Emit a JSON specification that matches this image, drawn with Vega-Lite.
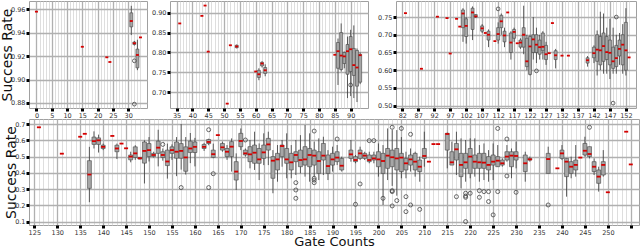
{
"$schema":"https://vega.github.io/schema/vega-lite/v6.json",
"padding":0,
"background":"white",
"datasets":{
"box":[
{"p":"a","x":0,"m":0.958},{"p":"a","x":15,"m":0.928},{"p":"a","x":23,"m":0.919},{"p":"a","x":24,"m":0.915},
{"p":"a","x":31,"lo":0.938,"q1":0.945,"m":0.950,"q3":0.957,"hi":0.963},
{"p":"a","x":32,"lo":0.929,"q1":0.930,"m":0.931,"q3":0.932,"hi":0.933},
{"p":"a","x":33,"lo":0.908,"q1":0.910,"m":0.921,"q3":0.926,"hi":0.934},
{"p":"a","x":34,"m":0.936},
{"p":"b","x":36,"m":0.873},{"p":"b","x":43,"m":0.892},{"p":"b","x":44,"m":0.918},{"p":"b","x":45,"m":0.802},{"p":"b","x":51,"m":0.671},{"p":"b","x":52,"m":0.818},
{"p":"b","x":54,"lo":0.810,"q1":0.812,"m":0.815,"q3":0.818,"hi":0.820},
{"p":"b","x":60,"m":0.752},
{"p":"b","x":61,"lo":0.730,"q1":0.737,"m":0.745,"q3":0.755,"hi":0.760},
{"p":"b","x":62,"lo":0.762,"q1":0.766,"m":0.772,"q3":0.775,"hi":0.778},
{"p":"b","x":63,"lo":0.740,"q1":0.747,"m":0.755,"q3":0.762,"hi":0.770},
{"p":"b","x":85,"m":0.794},
{"p":"b","x":86,"lo":0.718,"q1":0.760,"m":0.803,"q3":0.825,"hi":0.835},
{"p":"b","x":87,"lo":0.752,"q1":0.757,"m":0.792,"q3":0.850,"hi":0.873},
{"p":"b","x":88,"lo":0.760,"q1":0.772,"m":0.790,"q3":0.800,"hi":0.802},
{"p":"b","x":89,"lo":0.685,"q1":0.745,"m":0.803,"q3":0.820,"hi":0.840},
{"p":"b","x":90,"lo":0.690,"q1":0.752,"m":0.808,"q3":0.840,"hi":0.857},
{"p":"b","x":91,"lo":0.685,"q1":0.742,"m":0.768,"q3":0.810,"hi":0.868},
{"p":"b","x":92,"lo":0.675,"q1":0.715,"m":0.762,"q3":0.805,"hi":0.810},
{"p":"b","x":93,"lo":0.720,"q1":0.725,"m":0.793,"q3":0.795,"hi":0.800},
{"p":"c","x":83,"m":0.761},{"p":"c","x":88,"m":0.604},{"p":"c","x":93,"m":0.751},{"p":"c","x":96,"m":0.747},{"p":"c","x":97,"m":0.647},{"p":"c","x":99,"m":0.745},{"p":"c","x":100,"m":0.723},
{"p":"c","x":101,"lo":0.680,"q1":0.720,"m":0.760,"q3":0.770,"hi":0.775},
{"p":"c","x":102,"lo":0.675,"q1":0.695,"m":0.725,"q3":0.745,"hi":0.750},
{"p":"c","x":104,"lo":0.685,"q1":0.715,"m":0.763,"q3":0.775,"hi":0.780},
{"p":"c","x":105,"lo":0.748,"q1":0.750,"m":0.752,"q3":0.757,"hi":0.758},
{"p":"c","x":107,"lo":0.705,"q1":0.710,"m":0.718,"q3":0.725,"hi":0.730},
{"p":"c","x":108,"m":0.705},
{"p":"c","x":109,"lo":0.665,"q1":0.685,"m":0.700,"q3":0.710,"hi":0.715},
{"p":"c","x":111,"m":0.682},
{"p":"c","x":112,"lo":0.675,"q1":0.685,"m":0.702,"q3":0.720,"hi":0.735},
{"p":"c","x":113,"lo":0.700,"q1":0.720,"m":0.738,"q3":0.755,"hi":0.760},
{"p":"c","x":114,"lo":0.665,"q1":0.680,"m":0.698,"q3":0.710,"hi":0.720},
{"p":"c","x":115,"m":0.763},
{"p":"c","x":116,"lo":0.630,"q1":0.650,"m":0.678,"q3":0.705,"hi":0.710},
{"p":"c","x":117,"lo":0.680,"q1":0.690,"m":0.708,"q3":0.715,"hi":0.720},
{"p":"c","x":118,"m":0.676},
{"p":"c","x":119,"lo":0.660,"q1":0.665,"m":0.678,"q3":0.685,"hi":0.690},
{"p":"c","x":120,"lo":0.645,"q1":0.665,"m":0.700,"q3":0.720,"hi":0.782},
{"p":"c","x":121,"lo":0.600,"q1":0.610,"m":0.625,"q3":0.690,"hi":0.700},
{"p":"c","x":122,"lo":0.585,"q1":0.588,"m":0.667,"q3":0.695,"hi":0.700},
{"p":"c","x":123,"lo":0.630,"q1":0.650,"m":0.687,"q3":0.700,"hi":0.750},
{"p":"c","x":124,"lo":0.620,"q1":0.650,"m":0.672,"q3":0.700,"hi":0.720},
{"p":"c","x":125,"lo":0.630,"q1":0.645,"m":0.665,"q3":0.685,"hi":0.700},
{"p":"c","x":126,"lo":0.630,"q1":0.655,"m":0.666,"q3":0.705,"hi":0.710},
{"p":"c","x":127,"lo":0.615,"q1":0.630,"m":0.645,"q3":0.670,"hi":0.680},
{"p":"c","x":128,"m":0.648},{"p":"c","x":129,"m":0.733},
{"p":"c","x":130,"lo":0.605,"q1":0.630,"m":0.642,"q3":0.655,"hi":0.660},
{"p":"c","x":132,"m":0.641},{"p":"c","x":134,"m":0.641},
{"p":"c","x":140,"lo":0.610,"q1":0.620,"m":0.628,"q3":0.635,"hi":0.640},
{"p":"c","x":142,"lo":0.620,"q1":0.635,"m":0.648,"q3":0.665,"hi":0.670},
{"p":"c","x":143,"lo":0.585,"q1":0.625,"m":0.658,"q3":0.700,"hi":0.712},
{"p":"c","x":144,"lo":0.600,"q1":0.615,"m":0.656,"q3":0.695,"hi":0.765},
{"p":"c","x":145,"lo":0.590,"q1":0.625,"m":0.668,"q3":0.705,"hi":0.760},
{"p":"c","x":146,"lo":0.590,"q1":0.630,"m":0.651,"q3":0.695,"hi":0.720},
{"p":"c","x":147,"lo":0.575,"q1":0.615,"m":0.649,"q3":0.685,"hi":0.745},
{"p":"c","x":148,"lo":0.590,"q1":0.605,"m":0.625,"q3":0.665,"hi":0.720},
{"p":"c","x":149,"lo":0.590,"q1":0.610,"m":0.634,"q3":0.670,"hi":0.700},
{"p":"c","x":150,"lo":0.615,"q1":0.640,"m":0.660,"q3":0.685,"hi":0.705},
{"p":"c","x":151,"lo":0.590,"q1":0.615,"m":0.672,"q3":0.700,"hi":0.730},
{"p":"c","x":152,"lo":0.585,"q1":0.600,"m":0.656,"q3":0.735,"hi":0.775},
{"p":"c","x":153,"m":0.636},
{"p":"d","x":126,"m":0.680},{"p":"d","x":131,"m":0.518},{"p":"d","x":135,"m":0.622},{"p":"d","x":136,"m":0.640},
{"p":"d","x":137,"lo":0.22,"q1":0.305,"m":0.39,"q3":0.475,"hi":0.56},
{"p":"d","x":138,"lo":0.55,"q1":0.575,"m":0.595,"q3":0.62,"hi":0.655},
{"p":"d","x":139,"lo":0.525,"q1":0.575,"m":0.60,"q3":0.615,"hi":0.635},
{"p":"d","x":140,"lo":0.54,"q1":0.55,"m":0.56,"q3":0.57,"hi":0.58},
{"p":"d","x":142,"m":0.627},
{"p":"d","x":143,"lo":0.485,"q1":0.53,"m":0.55,"q3":0.57,"hi":0.58},
{"p":"d","x":144,"m":0.58},{"p":"d","x":145,"m":0.551},
{"p":"d","x":146,"lo":0.465,"q1":0.48,"m":0.50,"q3":0.51,"hi":0.53},
{"p":"d","x":147,"lo":0.48,"q1":0.495,"m":0.52,"q3":0.56,"hi":0.57},
{"p":"d","x":148,"lo":0.483,"q1":0.485,"m":0.49,"q3":0.495,"hi":0.497},
{"p":"d","x":149,"lo":0.335,"q1":0.46,"m":0.535,"q3":0.59,"hi":0.60},
{"p":"d","x":150,"lo":0.47,"q1":0.50,"m":0.54,"q3":0.58,"hi":0.62},
{"p":"d","x":151,"lo":0.495,"q1":0.50,"m":0.51,"q3":0.52,"hi":0.53},
{"p":"d","x":152,"lo":0.44,"q1":0.52,"m":0.555,"q3":0.595,"hi":0.665},
{"p":"d","x":153,"lo":0.475,"q1":0.495,"m":0.51,"q3":0.53,"hi":0.55},
{"p":"d","x":154,"lo":0.365,"q1":0.445,"m":0.47,"q3":0.54,"hi":0.58},
{"p":"d","x":155,"lo":0.48,"q1":0.52,"m":0.54,"q3":0.56,"hi":0.575},
{"p":"d","x":156,"lo":0.38,"q1":0.49,"m":0.53,"q3":0.59,"hi":0.62},
{"p":"d","x":157,"lo":0.42,"q1":0.49,"m":0.535,"q3":0.58,"hi":0.70},
{"p":"d","x":158,"lo":0.39,"q1":0.41,"m":0.495,"q3":0.56,"hi":0.62},
{"p":"d","x":159,"lo":0.46,"q1":0.525,"m":0.55,"q3":0.595,"hi":0.645},
{"p":"d","x":160,"lo":0.44,"q1":0.525,"m":0.56,"q3":0.59,"hi":0.615},
{"p":"d","x":162,"lo":0.535,"q1":0.55,"m":0.56,"q3":0.575,"hi":0.585},
{"p":"d","x":163,"lo":0.57,"q1":0.58,"m":0.59,"q3":0.605,"hi":0.61},
{"p":"d","x":164,"lo":0.49,"q1":0.495,"m":0.515,"q3":0.54,"hi":0.58},
{"p":"d","x":165,"m":0.632},
{"p":"d","x":166,"lo":0.53,"q1":0.54,"m":0.557,"q3":0.581,"hi":0.592},
{"p":"d","x":167,"lo":0.48,"q1":0.50,"m":0.53,"q3":0.55,"hi":0.571},
{"p":"d","x":168,"lo":0.408,"q1":0.50,"m":0.561,"q3":0.592,"hi":0.612},
{"p":"d","x":169,"lo":0.295,"q1":0.356,"m":0.408,"q3":0.469,"hi":0.52},
{"p":"d","x":170,"lo":0.54,"q1":0.561,"m":0.596,"q3":0.643,"hi":0.673},
{"p":"d","x":171,"lo":0.50,"q1":0.51,"m":0.52,"q3":0.54,"hi":0.55},
{"p":"d","x":172,"lo":0.428,"q1":0.469,"m":0.514,"q3":0.561,"hi":0.602},
{"p":"d","x":173,"lo":0.418,"q1":0.459,"m":0.524,"q3":0.571,"hi":0.653},
{"p":"d","x":174,"lo":0.356,"q1":0.459,"m":0.483,"q3":0.55,"hi":0.581},
{"p":"d","x":175,"lo":0.448,"q1":0.489,"m":0.526,"q3":0.571,"hi":0.643},
{"p":"d","x":176,"lo":0.448,"q1":0.54,"m":0.575,"q3":0.612,"hi":0.653},
{"p":"d","x":177,"lo":0.275,"q1":0.367,"m":0.475,"q3":0.50,"hi":0.54},
{"p":"d","x":178,"lo":0.346,"q1":0.418,"m":0.483,"q3":0.52,"hi":0.571},
{"p":"d","x":179,"lo":0.438,"q1":0.50,"m":0.565,"q3":0.571,"hi":0.602},
{"p":"d","x":180,"lo":0.367,"q1":0.459,"m":0.483,"q3":0.55,"hi":0.643},
{"p":"d","x":181,"lo":0.367,"q1":0.418,"m":0.465,"q3":0.52,"hi":0.571},
{"p":"d","x":182,"lo":0.387,"q1":0.469,"m":0.51,"q3":0.53,"hi":0.602},
{"p":"d","x":183,"lo":0.397,"q1":0.438,"m":0.479,"q3":0.54,"hi":0.632},
{"p":"d","x":184,"lo":0.377,"q1":0.448,"m":0.483,"q3":0.561,"hi":0.694},
{"p":"d","x":185,"lo":0.346,"q1":0.438,"m":0.51,"q3":0.55,"hi":0.643},
{"p":"d","x":186,"lo":0.377,"q1":0.448,"m":0.506,"q3":0.54,"hi":0.592},
{"p":"d","x":187,"lo":0.356,"q1":0.397,"m":0.473,"q3":0.53,"hi":0.612},
{"p":"d","x":188,"lo":0.387,"q1":0.479,"m":0.506,"q3":0.581,"hi":0.622},
{"p":"d","x":189,"lo":0.356,"q1":0.397,"m":0.442,"q3":0.51,"hi":0.54},
{"p":"d","x":190,"lo":0.408,"q1":0.448,"m":0.483,"q3":0.52,"hi":0.561},
{"p":"d","x":191,"lo":0.448,"q1":0.469,"m":0.494,"q3":0.53,"hi":0.571},
{"p":"d","x":192,"lo":0.408,"q1":0.418,"m":0.444,"q3":0.489,"hi":0.50},
{"p":"d","x":194,"lo":0.469,"q1":0.489,"m":0.514,"q3":0.54,"hi":0.602},
{"p":"d","x":195,"lo":0.459,"q1":0.469,"m":0.479,"q3":0.50,"hi":0.51},
{"p":"d","x":196,"lo":0.479,"q1":0.489,"m":0.52,"q3":0.54,"hi":0.561},
{"p":"d","x":197,"lo":0.479,"q1":0.489,"m":0.506,"q3":0.52,"hi":0.53},
{"p":"d","x":198,"lo":0.459,"q1":0.469,"m":0.479,"q3":0.51,"hi":0.53},
{"p":"d","x":199,"lo":0.459,"q1":0.479,"m":0.489,"q3":0.51,"hi":0.53},
{"p":"d","x":200,"lo":0.377,"q1":0.438,"m":0.483,"q3":0.53,"hi":0.581},
{"p":"d","x":201,"lo":0.203,"q1":0.397,"m":0.473,"q3":0.52,"hi":0.571},
{"p":"d","x":202,"lo":0.356,"q1":0.428,"m":0.506,"q3":0.55,"hi":0.673},
{"p":"d","x":203,"lo":0.32,"q1":0.438,"m":0.496,"q3":0.54,"hi":0.663},
{"p":"d","x":204,"lo":0.26,"q1":0.418,"m":0.489,"q3":0.55,"hi":0.663},
{"p":"d","x":205,"lo":0.367,"q1":0.408,"m":0.494,"q3":0.52,"hi":0.62},
{"p":"d","x":206,"lo":0.367,"q1":0.418,"m":0.459,"q3":0.489,"hi":0.53},
{"p":"d","x":207,"lo":0.408,"q1":0.448,"m":0.483,"q3":0.51,"hi":0.55},
{"p":"d","x":208,"lo":0.377,"q1":0.418,"m":0.469,"q3":0.52,"hi":0.53},
{"p":"d","x":209,"lo":0.346,"q1":0.408,"m":0.438,"q3":0.479,"hi":0.50},
{"p":"d","x":210,"lo":0.438,"q1":0.489,"m":0.504,"q3":0.55,"hi":0.653},
{"p":"d","x":211,"m":0.469},{"p":"d","x":212,"m":0.577},{"p":"d","x":213,"m":0.577},
{"p":"d","x":215,"lo":0.428,"q1":0.54,"m":0.639,"q3":0.643,"hi":0.647},
{"p":"d","x":216,"lo":0.448,"q1":0.448,"m":0.465,"q3":0.53,"hi":0.592},
{"p":"d","x":217,"lo":0.387,"q1":0.479,"m":0.545,"q3":0.581,"hi":0.653},
{"p":"d","x":218,"lo":0.305,"q1":0.377,"m":0.449,"q3":0.52,"hi":0.612},
{"p":"d","x":219,"lo":0.346,"q1":0.428,"m":0.465,"q3":0.52,"hi":0.602},
{"p":"d","x":220,"lo":0.367,"q1":0.397,"m":0.50,"q3":0.55,"hi":0.612},
{"p":"d","x":221,"lo":0.377,"q1":0.428,"m":0.469,"q3":0.51,"hi":0.612},
{"p":"d","x":222,"lo":0.346,"q1":0.428,"m":0.465,"q3":0.52,"hi":0.571},
{"p":"d","x":223,"lo":0.356,"q1":0.428,"m":0.463,"q3":0.52,"hi":0.581},
{"p":"d","x":224,"lo":0.346,"q1":0.418,"m":0.449,"q3":0.50,"hi":0.54},
{"p":"d","x":225,"lo":0.356,"q1":0.448,"m":0.469,"q3":0.51,"hi":0.581},
{"p":"d","x":226,"lo":0.438,"q1":0.438,"m":0.475,"q3":0.50,"hi":0.571},
{"p":"d","x":227,"lo":0.438,"q1":0.448,"m":0.459,"q3":0.479,"hi":0.489},
{"p":"d","x":228,"lo":0.469,"q1":0.479,"m":0.50,"q3":0.53,"hi":0.571},
{"p":"d","x":229,"lo":0.367,"q1":0.438,"m":0.506,"q3":0.53,"hi":0.55},
{"p":"d","x":230,"lo":0.428,"q1":0.479,"m":0.504,"q3":0.53,"hi":0.592},
{"p":"d","x":232,"lo":0.346,"q1":0.408,"m":0.459,"q3":0.51,"hi":0.53},
{"p":"d","x":233,"lo":0.469,"q1":0.479,"m":0.483,"q3":0.489,"hi":0.50},
{"p":"d","x":237,"lo":0.397,"q1":0.397,"m":0.485,"q3":0.52,"hi":0.561},
{"p":"d","x":239,"m":0.428},
{"p":"d","x":240,"lo":0.479,"q1":0.489,"m":0.52,"q3":0.54,"hi":0.571},
{"p":"d","x":241,"lo":0.254,"q1":0.377,"m":0.469,"q3":0.489,"hi":0.489},
{"p":"d","x":242,"lo":0.367,"q1":0.397,"m":0.438,"q3":0.469,"hi":0.50},
{"p":"d","x":243,"lo":0.377,"q1":0.418,"m":0.449,"q3":0.479,"hi":0.571},
{"p":"d","x":244,"m":0.494},
{"p":"d","x":245,"lo":0.50,"q1":0.51,"m":0.536,"q3":0.581,"hi":0.622},
{"p":"d","x":246,"lo":0.489,"q1":0.50,"m":0.516,"q3":0.561,"hi":0.561},
{"p":"d","x":247,"lo":0.387,"q1":0.408,"m":0.438,"q3":0.469,"hi":0.489},
{"p":"d","x":248,"lo":0.285,"q1":0.336,"m":0.377,"q3":0.418,"hi":0.438},
{"p":"d","x":249,"lo":0.377,"q1":0.387,"m":0.449,"q3":0.469,"hi":0.54},
{"p":"d","x":250,"m":0.281},{"p":"d","x":254,"m":0.653},{"p":"d","x":255,"m":0.452}
],
"out":[
{"p":"a","x":32,"y":0.916},{"p":"a","x":32,"y":0.879},
{"p":"b","x":90,"y":0.718},
{"p":"c","x":112,"y":0.773},{"p":"c","x":124,"y":0.598},{"p":"c","x":148,"y":0.507},{"p":"c","x":149,"y":0.750},
{"p":"d","x":153,"y":0.575},{"p":"d","x":157,"y":0.31},{"p":"d","x":163,"y":0.665},{"p":"d","x":163,"y":0.31},{"p":"d","x":164,"y":0.395},
{"p":"d","x":171,"y":0.602},{"p":"d","x":182,"y":0.34},{"p":"d","x":182,"y":0.295},{"p":"d","x":182,"y":0.244},
{"p":"d","x":186,"y":0.657},{"p":"d","x":186,"y":0.367},{"p":"d","x":186,"y":0.356},{"p":"d","x":186,"y":0.34},
{"p":"d","x":191,"y":0.608},{"p":"d","x":195,"y":0.207},{"p":"d","x":196,"y":0.332},{"p":"d","x":198,"y":0.598},{"p":"d","x":199,"y":0.598},
{"p":"d","x":201,"y":0.244},{"p":"d","x":203,"y":0.68},{"p":"d","x":203,"y":0.291},{"p":"d","x":203,"y":0.285},{"p":"d","x":203,"y":0.197},
{"p":"d","x":204,"y":0.23},{"p":"d","x":205,"y":0.673},{"p":"d","x":206,"y":0.254},{"p":"d","x":206,"y":0.162},{"p":"d","x":207,"y":0.637},{"p":"d","x":207,"y":0.203},
{"p":"d","x":209,"y":0.176},{"p":"d","x":217,"y":0.254},{"p":"d","x":219,"y":0.275},{"p":"d","x":219,"y":0.258},{"p":"d","x":219,"y":0.25},{"p":"d","x":219,"y":0.101},
{"p":"d","x":220,"y":0.275},{"p":"d","x":222,"y":0.291},{"p":"d","x":222,"y":0.25},{"p":"d","x":223,"y":0.285},{"p":"d","x":224,"y":0.285},{"p":"d","x":224,"y":0.224},
{"p":"d","x":225,"y":0.142},{"p":"d","x":226,"y":0.673},{"p":"d","x":226,"y":0.285},{"p":"d","x":228,"y":0.608},{"p":"d","x":228,"y":0.381},{"p":"d","x":230,"y":0.281},
{"p":"d","x":237,"y":0.203},{"p":"d","x":246,"y":0.68}
]
},
"vconcat":[
{"hconcat":[
{"width":118,"height":107,
"layer":[
{"data":{"name":"box"},"transform":[{"filter":"datum.p==='a'"}],"mark":{"type":"rule","stroke":"#333","strokeWidth":0.8,"clip":true},
"encoding":{"x":{"field":"x","type":"quantitative","scale":{"domain":[-0.8,34.5],"nice":false,"zero":false},
"axis":{"title":null,"format":"d","tickCount":500,"values":[0,1,2,3,4,5,6,7,8,9,10,11,12,13,14,15,16,17,18,19,20,21,22,23,24,25,26,27,28,29,30,31,32,33,34],
"labelExpr":"datum.value % 5 === 0 ? datum.label : ''",
"gridColor":{"condition":{"test":"datum.value % 5 === 0","value":"#b0b0b0"},"value":"#d6d6d6"},
"gridWidth":{"condition":{"test":"datum.value % 5 === 0","value":1.3},"value":0.8},
"tickOpacity":{"condition":{"test":"datum.value % 5 === 0","value":1},"value":0}}},
"y":{"field":"lo","type":"quantitative","scale":{"domain":[0.8757,0.9671],"nice":false,"zero":false},
"axis":{"title":"Success Rate","titlePadding":-4,"format":".2f","tickCount":500,"values":[0.88,0.90,0.92,0.94,0.96]}},
"y2":{"field":"hi"}}},
{"data":{"name":"box"},"transform":[{"filter":"datum.p==='a'"}],"mark":{"type":"bar","size":3,"fill":"#a6a6a6","stroke":"#444","strokeWidth":0.6,"clip":true},
"encoding":{"x":{"field":"x","type":"quantitative"},"y":{"field":"q1","type":"quantitative"},"y2":{"field":"q3"}}},
{"data":{"name":"box"},"transform":[{"filter":"datum.p==='a'"}],"mark":{"type":"tick","orient":"horizontal","color":"#d40000","size":3,"thickness":1.8,"opacity":1,"clip":true},
"encoding":{"x":{"field":"x","type":"quantitative"},"y":{"field":"m","type":"quantitative"}}},
{"data":{"name":"out"},"transform":[{"filter":"datum.p==='a'"}],"mark":{"type":"point","shape":"circle","filled":false,"stroke":"#444","size":14,"strokeWidth":0.8,"opacity":1,"clip":true},
"encoding":{"x":{"field":"x","type":"quantitative"},"y":{"field":"y","type":"quantitative"}}}
]},
{"hconcat":[
{"width":198,"height":107,
"layer":[
{"data":{"name":"box"},"transform":[{"filter":"datum.p==='b'"}],"mark":{"type":"rule","stroke":"#333","strokeWidth":0.8,"clip":true},
"encoding":{"x":{"field":"x","type":"quantitative","scale":{"domain":[34.5,93.9],"nice":false,"zero":false},
"axis":{"title":null,"format":"d","tickCount":500,"values":[35,36,37,38,39,40,41,42,43,44,45,46,47,48,49,50,51,52,53,54,55,56,57,58,59,60,61,62,63,64,65,66,67,68,69,70,71,72,73,74,75,76,77,78,79,80,81,82,83,84,85,86,87,88,89,90,91,92,93],
"labelExpr":"datum.value % 5 === 0 ? datum.label : ''",
"gridColor":{"condition":{"test":"datum.value % 5 === 0","value":"#b0b0b0"},"value":"#d6d6d6"},
"gridWidth":{"condition":{"test":"datum.value % 5 === 0","value":1.3},"value":0.8},
"tickOpacity":{"condition":{"test":"datum.value % 5 === 0","value":1},"value":0}}},
"y":{"field":"lo","type":"quantitative","scale":{"domain":[0.660,0.9295],"nice":false,"zero":false},
"axis":{"title":null,"format":".2f","tickCount":500,"values":[0.70,0.75,0.80,0.85,0.90]}},
"y2":{"field":"hi"}}},
{"data":{"name":"box"},"transform":[{"filter":"datum.p==='b'"}],"mark":{"type":"bar","size":3,"fill":"#a6a6a6","stroke":"#444","strokeWidth":0.6,"clip":true},
"encoding":{"x":{"field":"x","type":"quantitative"},"y":{"field":"q1","type":"quantitative"},"y2":{"field":"q3"}}},
{"data":{"name":"box"},"transform":[{"filter":"datum.p==='b'"}],"mark":{"type":"tick","orient":"horizontal","color":"#d40000","size":3,"thickness":1.8,"opacity":1,"clip":true},
"encoding":{"x":{"field":"x","type":"quantitative"},"y":{"field":"m","type":"quantitative"}}},
{"data":{"name":"out"},"transform":[{"filter":"datum.p==='b'"}],"mark":{"type":"point","shape":"circle","filled":false,"stroke":"#444","size":14,"strokeWidth":0.8,"opacity":1,"clip":true},
"encoding":{"x":{"field":"x","type":"quantitative"},"y":{"field":"y","type":"quantitative"}}}
]},
{"width":240,"height":107,
"layer":[
{"data":{"name":"box"},"transform":[{"filter":"datum.p==='c'"}],"mark":{"type":"rule","stroke":"#333","strokeWidth":0.8,"clip":true},
"encoding":{"x":{"field":"x","type":"quantitative","scale":{"domain":[81.6,153.6],"nice":false,"zero":false},
"axis":{"title":null,"format":"d","tickCount":500,"values":[82,83,84,85,86,87,88,89,90,91,92,93,94,95,96,97,98,99,100,101,102,103,104,105,106,107,108,109,110,111,112,113,114,115,116,117,118,119,120,121,122,123,124,125,126,127,128,129,130,131,132,133,134,135,136,137,138,139,140,141,142,143,144,145,146,147,148,149,150,151,152,153],
"labelExpr":"(datum.value - 82) % 5 === 0 ? datum.label : ''",
"gridColor":{"condition":{"test":"(datum.value - 82) % 5 === 0","value":"#b0b0b0"},"value":"#d6d6d6"},
"gridWidth":{"condition":{"test":"(datum.value - 82) % 5 === 0","value":1.3},"value":0.8},
"tickOpacity":{"condition":{"test":"(datum.value - 82) % 5 === 0","value":1},"value":0}}},
"y":{"field":"lo","type":"quantitative","scale":{"domain":[0.4932,0.7953],"nice":false,"zero":false},
"axis":{"title":null,"format":".2f","tickCount":500,"values":[0.50,0.55,0.60,0.65,0.70,0.75]}},
"y2":{"field":"hi"}}},
{"data":{"name":"box"},"transform":[{"filter":"datum.p==='c'"}],"mark":{"type":"bar","size":3,"fill":"#a6a6a6","stroke":"#444","strokeWidth":0.6,"clip":true},
"encoding":{"x":{"field":"x","type":"quantitative"},"y":{"field":"q1","type":"quantitative"},"y2":{"field":"q3"}}},
{"data":{"name":"box"},"transform":[{"filter":"datum.p==='c'"}],"mark":{"type":"tick","orient":"horizontal","color":"#d40000","size":3,"thickness":1.8,"opacity":1,"clip":true},
"encoding":{"x":{"field":"x","type":"quantitative"},"y":{"field":"m","type":"quantitative"}}},
{"data":{"name":"out"},"transform":[{"filter":"datum.p==='c'"}],"mark":{"type":"point","shape":"circle","filled":false,"stroke":"#444","size":14,"strokeWidth":0.8,"opacity":1,"clip":true},
"encoding":{"x":{"field":"x","type":"quantitative"},"y":{"field":"y","type":"quantitative"}}}
]}
],"spacing":8,"resolve":{"scale":{"x":"independent","y":"independent"}}}
],"spacing":3,"resolve":{"scale":{"x":"independent","y":"independent"}}},
{"width":610,"height":106,
"layer":[
{"data":{"name":"box"},"transform":[{"filter":"datum.p==='d'"}],"mark":{"type":"rule","stroke":"#333","strokeWidth":0.8,"clip":true},
"encoding":{"x":{"field":"x","type":"quantitative","scale":{"domain":[124.93,255.7],"nice":false,"zero":false},
"axis":{"title":"Gate Counts","titlePadding":0,"titleFontSize":13,"format":"d","tickCount":500,"values":[125,126,127,128,129,130,131,132,133,134,135,136,137,138,139,140,141,142,143,144,145,146,147,148,149,150,151,152,153,154,155,156,157,158,159,160,161,162,163,164,165,166,167,168,169,170,171,172,173,174,175,176,177,178,179,180,181,182,183,184,185,186,187,188,189,190,191,192,193,194,195,196,197,198,199,200,201,202,203,204,205,206,207,208,209,210,211,212,213,214,215,216,217,218,219,220,221,222,223,224,225,226,227,228,229,230,231,232,233,234,235,236,237,238,239,240,241,242,243,244,245,246,247,248,249,250,251,252,253,254,255],
"labelExpr":"datum.value % 5 === 0 && datum.value < 255 ? datum.label : ''",
"gridColor":{"condition":{"test":"datum.value % 5 === 0","value":"#b0b0b0"},"value":"#d6d6d6"},
"gridWidth":{"condition":{"test":"datum.value % 5 === 0","value":1.3},"value":0.8},
"tickOpacity":{"condition":{"test":"datum.value % 5 === 0","value":1},"value":0}}},
"y":{"field":"lo","type":"quantitative","scale":{"domain":[0.08,0.731],"nice":false,"zero":false},
"axis":{"title":"Success Rate","titlePadding":-4,"format":".1f","tickCount":500,"values":[0.1,0.2,0.3,0.4,0.5,0.6,0.7]}},
"y2":{"field":"hi"}}},
{"data":{"name":"box"},"transform":[{"filter":"datum.p==='d'"}],"mark":{"type":"bar","size":4,"fill":"#a6a6a6","stroke":"#444","strokeWidth":0.6,"clip":true},
"encoding":{"x":{"field":"x","type":"quantitative"},"y":{"field":"q1","type":"quantitative"},"y2":{"field":"q3"}}},
{"data":{"name":"box"},"transform":[{"filter":"datum.p==='d'"}],"mark":{"type":"tick","orient":"horizontal","color":"#d40000","size":4,"thickness":1.8,"opacity":1,"clip":true},
"encoding":{"x":{"field":"x","type":"quantitative"},"y":{"field":"m","type":"quantitative"}}},
{"data":{"name":"out"},"transform":[{"filter":"datum.p==='d'"}],"mark":{"type":"point","shape":"circle","filled":false,"stroke":"#444","size":16,"strokeWidth":0.8,"opacity":1,"clip":true},
"encoding":{"x":{"field":"x","type":"quantitative"},"y":{"field":"y","type":"quantitative"}}}
]}
],
"spacing":-8,
"resolve":{"scale":{"x":"independent","y":"independent"}},
"config":{
"view":{"stroke":"#a0a0a0","strokeWidth":1},
"axis":{"domain":false,"labelFont":"DejaVu Sans","labelFontSize":6.5,"labelColor":"#333","titleFont":"DejaVu Sans","titleFontSize":14,"titleFontWeight":"normal","titleColor":"#111","gridColor":"#b0b0b0","gridWidth":1.3,"tickColor":"#000","tickSize":3,"tickWidth":3,"labelPadding":1,"titlePadding":1,"labelOverlap":false,"labelFlush":false,"labelBound":false}
}
}
